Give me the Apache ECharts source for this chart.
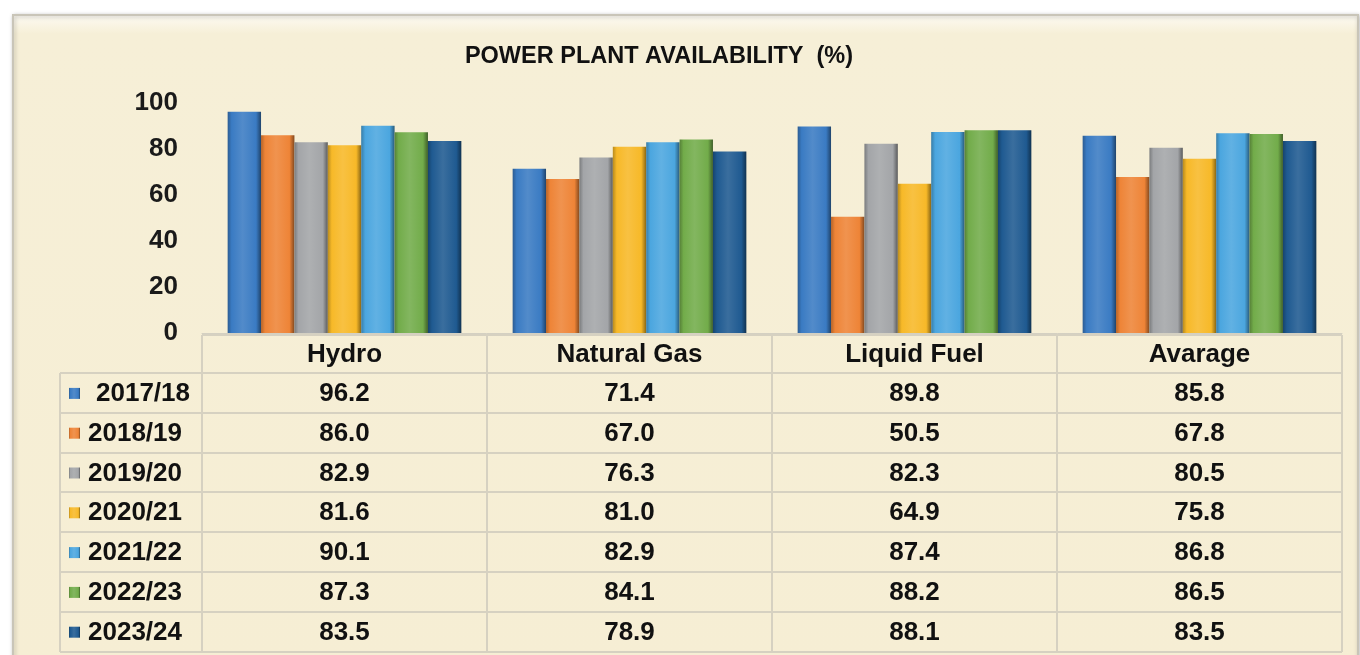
<!DOCTYPE html>
<html>
<head>
<meta charset="utf-8">
<title>Power Plant Availability</title>
<script src="https://cdn.jsdelivr.net/npm/echarts@6/dist/echarts.min.js"></script>
<style>
  html, body { margin: 0; padding: 0; background: #ffffff; }
  #chart { width: 1360px; height: 655px; }
</style>
</head>
<body>
<div id="chart"></div>
<script>
// ---------------- 数据 ----------------
const categories = ['Hydro', 'Natural Gas', 'Liquid Fuel', 'Avarage'];
const years = ['2017/18', '2018/19', '2019/20', '2020/21', '2021/22', '2022/23', '2023/24'];
const v201718 = [96.2, 71.4, 89.8, 85.8];
const v201819 = [86.0, 67.0, 50.5, 67.8];
const v201920 = [82.9, 76.3, 82.3, 80.5];
const v202021 = [81.6, 81.0, 64.9, 75.8];
const v202122 = [90.1, 82.9, 87.4, 86.8];
const v202223 = [87.3, 84.1, 88.2, 86.5];
const v202324 = [83.5, 78.9, 88.1, 83.5];
const yTicks = [0, 20, 40, 60, 80, 100];

const seriesValues = [v201718, v201819, v201920, v202021, v202122, v202223, v202324];
const colors = ['#3a7bc3', '#ee8437', '#a3a5a8', '#f7b928', '#4ba6df', '#72ac4a', '#1f5a91'];

// 颜色加深/变浅
function shade(hex, f) {
  let n = parseInt(hex.slice(1), 16);
  let r = (n >> 16) & 255, g = (n >> 8) & 255, b = n & 255;
  let t = f < 0 ? 0 : 255, p = Math.abs(f);
  r = Math.round((t - r) * p + r);
  g = Math.round((t - g) * p + g);
  b = Math.round((t - b) * p + b);
  return 'rgb(' + r + ',' + g + ',' + b + ')';
}

// 柱子做成立体效果：两边暗、中间亮
function barGradient(c) {
  return new echarts.graphic.LinearGradient(0, 0, 1, 0, [
    { offset: 0, color: shade(c, -0.25) },
    { offset: 0.12, color: c },
    { offset: 0.45, color: shade(c, 0.12) },
    { offset: 0.85, color: c },
    { offset: 1, color: shade(c, -0.45) }
  ]);
}

const font = 'Arial, "Liberation Sans", sans-serif';
const cellFont = 'bold 26px ' + font;
const myChart = echarts.init(document.getElementById('chart'));

const option = {
  animation: false,
  title: {
    text: 'POWER PLANT AVAILABILITY  (%)',
    left: 654,
    top: 40,
    textAlign: 'center',
    textStyle: { fontFamily: font, fontSize: 23.5, fontWeight: 'bold', color: '#111' }
  },
  grid: { left: 202, right: 18, top: 103, bottom: 322 },
  xAxis: {
    type: 'category',
    data: categories,
    axisLine: { show: true, lineStyle: { color: '#d4d0c2' } },
    axisTick: { show: false },
    axisLabel: { show: false }
  },
  yAxis: {
    type: 'value',
    min: yTicks[0],
    max: yTicks[yTicks.length - 1],
    interval: 20,
    splitLine: { show: false },
    axisLine: { show: false },
    axisTick: { show: false },
    axisLabel: {
      margin: 24,
      fontFamily: font,
      fontSize: 26,
      fontWeight: 'bold',
      color: '#1a1a1a'
    }
  },
  series: years.map(function (y, i) {
    return {
      name: y,
      type: 'bar',
      data: seriesValues[i],
      barGap: '0%',
      barCategoryGap: '18%',
      itemStyle: { color: barGradient(colors[i]) }
    };
  })
};
myChart.setOption(option);

// ---------------- 数据表 ----------------
const rowH = 39.8;
const headTop = 335;
const rowTop = 373;
const tableLeft = 60;
const colLeft = 202;
const tableRight = 1342;
const lineColor = '#d6d1c1';
const els = [];

// 外框
els.push({
  type: 'rect', z: -10, silent: true,
  shape: { x: 13, y: 15, width: 1345, height: 660 },
  style: {
    fill: new echarts.graphic.LinearGradient(0, 0, 0, 1, [
      { offset: 0, color: '#fdfbf4' },
      { offset: 0.03, color: '#f6efd7' },
      { offset: 1, color: '#f6eed4' }
    ]),
    stroke: '#c9c5b8', lineWidth: 2,
    shadowColor: 'rgba(0,0,0,0.25)', shadowBlur: 4, shadowOffsetX: 1, shadowOffsetY: 1
  }
});

// 表格线
const colEdges = [colLeft];
categories.forEach(function (c, i) {
  const cx = myChart.convertToPixel({ xAxisIndex: 0 }, c);
  colEdges.push(Math.round(cx + (cx - colEdges[i])));
});
// 表头上边
els.push({ type: 'line', z: 5, shape: { x1: colLeft, y1: headTop, x2: tableRight, y2: headTop }, style: { stroke: lineColor, lineWidth: 2 } });
for (let r = 0; r <= years.length; r++) {
  const y = Math.round(rowTop + r * rowH);
  els.push({ type: 'line', z: 5, shape: { x1: tableLeft, y1: y, x2: tableRight, y2: y }, style: { stroke: lineColor, lineWidth: 2 } });
}
const tableBottom = Math.round(rowTop + years.length * rowH);
els.push({ type: 'line', z: 5, shape: { x1: tableLeft, y1: rowTop, x2: tableLeft, y2: tableBottom }, style: { stroke: lineColor, lineWidth: 2 } });
colEdges.forEach(function (x) {
  els.push({ type: 'line', z: 5, shape: { x1: x, y1: headTop, x2: x, y2: tableBottom }, style: { stroke: lineColor, lineWidth: 2 } });
});

// 表头文字
categories.forEach(function (c) {
  const cx = myChart.convertToPixel({ xAxisIndex: 0 }, c);
  els.push({
    type: 'text', z: 6,
    x: cx, y: (headTop + rowTop) / 2 + 1,
    style: { text: c, fill: '#111', font: cellFont, align: 'center', verticalAlign: 'middle' }
  });
});

// 行：图例 + 数值
years.forEach(function (yname, r) {
  const cy = rowTop + r * rowH + rowH / 2;
  els.push({
    type: 'rect', z: 6,
    shape: { x: 69, y: cy - 5, width: 11, height: 11 },
    style: { fill: barGradient(colors[r]) }
  });
  els.push({
    type: 'text', z: 6,
    x: r === 0 ? 96 : 88, y: cy + 1,
    style: { text: yname, fill: '#111', font: cellFont, align: 'left', verticalAlign: 'middle' }
  });
  categories.forEach(function (c, k) {
    const cx = myChart.convertToPixel({ xAxisIndex: 0 }, c);
    els.push({
      type: 'text', z: 6,
      x: cx, y: cy + 1,
      style: { text: seriesValues[r][k].toFixed(1), fill: '#111', font: cellFont, align: 'center', verticalAlign: 'middle' }
    });
  });
});

myChart.setOption({ graphic: { elements: els } });
</script>
</body>
</html>
